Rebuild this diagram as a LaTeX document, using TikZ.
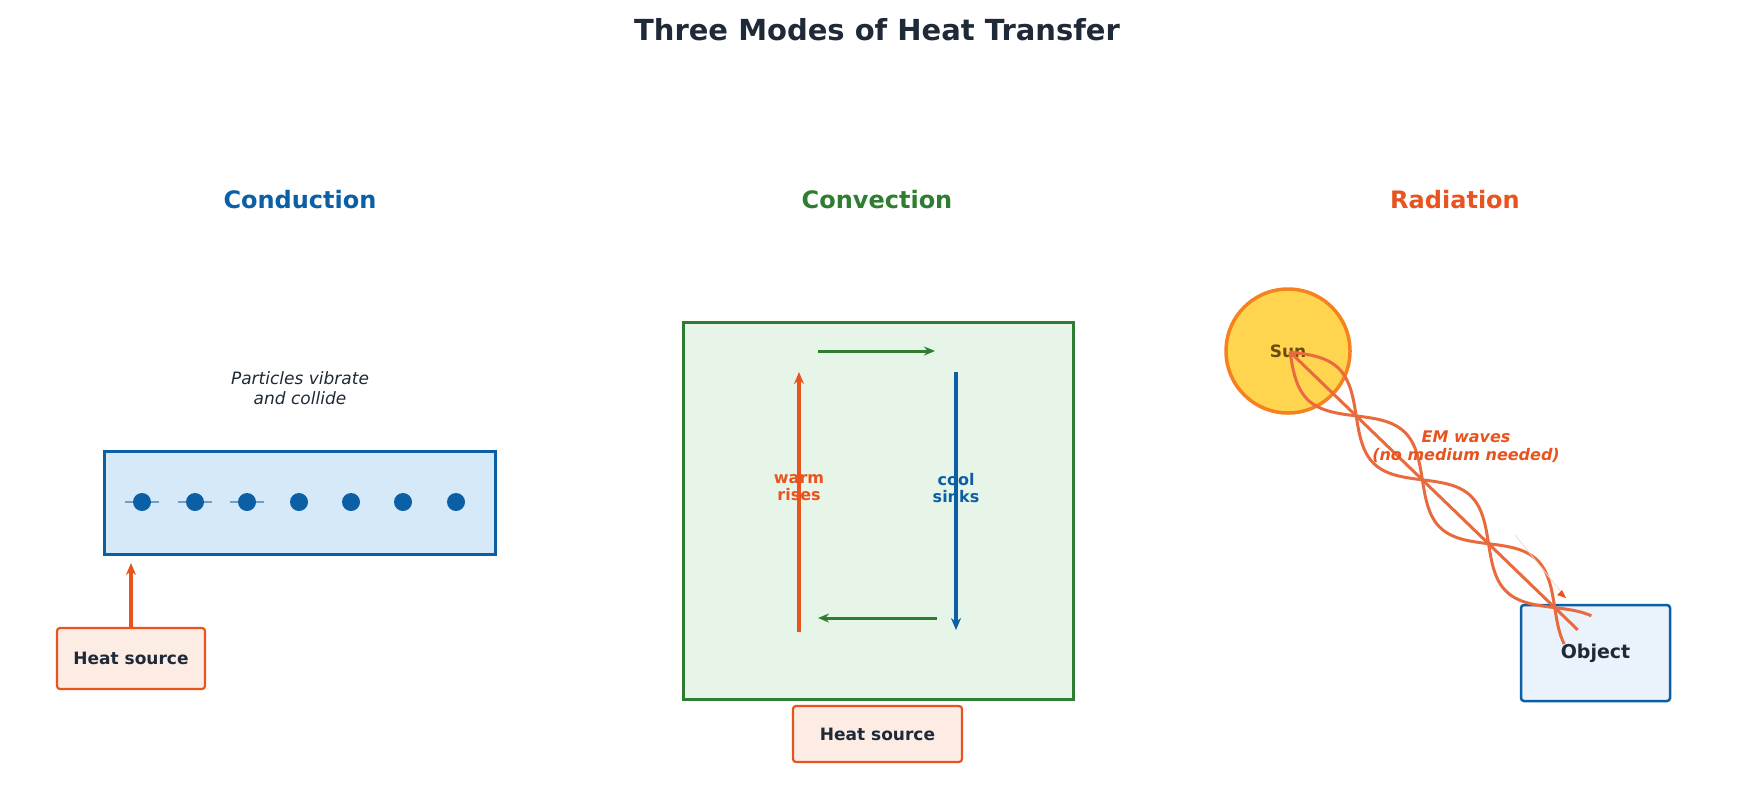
\documentclass[tikz,border=0pt]{standalone}
\usepackage{fontspec}
\setmainfont{DejaVu Sans}
\usetikzlibrary{arrows.meta}
\definecolor{dark}{HTML}{1F2937}
\definecolor{cblue}{HTML}{0B5FA5}
\definecolor{cgreen}{HTML}{2E7D32}
\definecolor{corange}{HTML}{E8531E}
\definecolor{wave}{HTML}{E96A3E}
\definecolor{bfill}{HTML}{D6E9F8}
\definecolor{gfill}{HTML}{E7F5E9}
\definecolor{hfill}{HTML}{FDECE4}
\definecolor{ofill}{HTML}{EAF2FB}
\definecolor{sunfill}{HTML}{FFD54F}
\definecolor{sundraw}{HTML}{F5821F}
\definecolor{suntext}{HTML}{6B4A0B}
\tikzset{
 hs/.style={draw=corange,fill=hfill,line width=2.2pt,rounded corners=3pt,font=\fontsize{17}{20}\selectfont\bfseries,text=dark},
 head/.style={font=\fontsize{24}{28}\selectfont\bfseries},
 lbl/.style={font=\fontsize{16}{17}\selectfont\bfseries,align=center},
 arr/.style={line width=3.5pt,-{Stealth[length=12pt,width=10pt]}},
 dot/.style={circle,fill=cblue,inner sep=0,minimum size=18pt}
}
\begin{document}
\begin{tikzpicture}[x=1pt,y=-1pt]
\useasboundingbox (0,0) rectangle (1755,806);
\node[font=\fontsize{29}{34}\selectfont\bfseries,text=dark] (title) at (877,30) {Three Modes of Heat Transfer};
% Conduction
\node[head,text=cblue] (h1) at (300,200) {Conduction};
\node[font=\fontsize{17}{20}\selectfont\itshape,text=dark,align=center] (pv) at (300,388) {Particles vibrate\\and collide};
\node[draw=cblue,fill=bfill,line width=3pt,minimum width=391pt,minimum height=103pt,inner sep=0] (bar) at (299.5,502.5) {};
\foreach \i/\x in {1/142,2/195,3/247}{\draw[cblue!60,line width=2pt] (\x-17,502) -- (\x+17,502);}
\foreach \i/\x in {1/142,2/195,3/247,4/299,5/351,6/403,7/456}{\node[dot] (p\i) at (\x,502) {};}
\node[hs,minimum width=148pt,minimum height=61pt] (hs1) at (131,658.5) {Heat source};
\draw[arr,corange] (hs1.north) -- (131,563);
% Convection
\node[head,text=cgreen] (h2) at (877,200) {Convection};
\node[draw=cgreen,fill=gfill,line width=3pt,minimum width=390pt,minimum height=377pt,inner sep=0] (cbox) at (878,510.5) {};
\coordinate (t1) at (818,351); \coordinate (t2) at (935,351);
\coordinate (b1) at (937,618); \coordinate (b2) at (818,618);
\draw[cgreen,line width=3pt,-{Stealth[length=11pt,width=9pt]}] (t1) -- (t2);
\draw[cgreen,line width=3pt,-{Stealth[length=11pt,width=9pt]}] (b1) -- (b2);
\coordinate (w1) at (799,632); \coordinate (w2) at (799,372);
\coordinate (c1) at (956,372); \coordinate (c2) at (956,630);
\draw[arr,corange] (w1) -- (w2);
\draw[arr,cblue] (c1) -- (c2);
\node[lbl,text=corange] (warm) at (799,488) {warm\\rises};
\node[lbl,text=cblue] (cool) at (956,488) {cool\\sinks};
\node[hs,minimum width=169pt,minimum height=56pt] (hs2) at (877.5,734) {Heat source};
% Radiation
\node[head,text=corange] (h3) at (1455,200) {Radiation};
\node[circle,draw=sundraw,fill=sunfill,line width=3.5pt,minimum size=124pt,inner sep=0] (sun) at (1288,351) {};
\node[font=\fontsize{17}{20}\selectfont\bfseries,text=suntext] (sunt) at (1288,351) {Sun};
\node[draw=cblue,fill=ofill,line width=2.5pt,rounded corners=3pt,minimum width=149pt,minimum height=96pt] (obj) at (1595.5,653) {};
\node[font=\fontsize{19}{22}\selectfont\bfseries,text=dark] (objt) at (1595.5,653) {Object};
\begin{scope}[shift={(1290,352)},rotate=-44]
 \draw[wave,line width=3pt] (0,0) -- (400,0);
 \draw[wave,line width=3pt] plot[domain=0:400,samples=120,smooth] (\x,{22*sin(\x*1.9565)});
 \draw[wave,line width=3pt] plot[domain=0:400,samples=120,smooth] (\x,{-22*sin(\x*1.9565)});
\end{scope}
\coordinate (fa1) at (1515,535); \coordinate (fa2) at (1566,598);
\draw[corange!25,line width=0.8pt] (fa1) -- (fa2);
\fill[corange] (fa2) -- ++(-9,-3) -- ++(5,-5) -- cycle;
\node[font=\fontsize{16}{18}\selectfont\bfseries\itshape,text=corange,align=center] (em) at (1466,447) {EM waves\\(no medium needed)};
\end{tikzpicture}
\end{document}
